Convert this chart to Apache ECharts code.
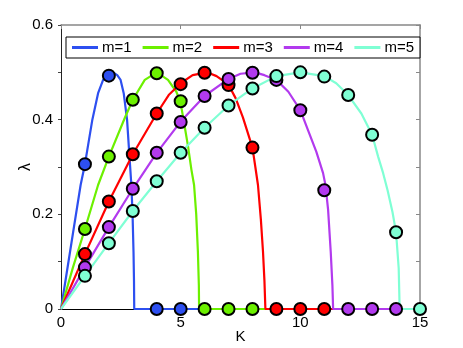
<!DOCTYPE html>
<html>
<head>
<meta charset="utf-8">
<script src="https://cdn.jsdelivr.net/npm/echarts@6/dist/echarts.min.js"></script>
<style>
  html, body { margin: 0; padding: 0; background: #fff; }
  #chart { width: 463px; height: 348px; }
</style>
</head>
<body>
<div id="chart"></div>
<script>
// legend names
const mNames = ['m=1', 'm=2', 'm=3', 'm=4', 'm=5'];

// theory curves [K, lambda]
const curve1 = [[0,0],[0.5,0.16],[0.82,0.262],[1,0.306],[1.31,0.40],[1.55,0.456],[1.76,0.484],[2,0.496],[2.17,0.5],[2.35,0.494],[2.49,0.484],[2.62,0.456],[2.76,0.40],[2.87,0.315],[2.94,0.262],[2.99,0.20],[3.03,0.12],[3.05,0.06],[3.06,0],[15,0]];
const curve2 = [[0,0],[0.5,0.088],[1,0.169],[1.55,0.262],[2,0.322],[2.66,0.403],[3,0.442],[3.5,0.484],[4,0.5],[4.47,0.484],[4.82,0.459],[5,0.435],[5.17,0.385],[5.31,0.343],[5.45,0.294],[5.56,0.262],[5.65,0.20],[5.72,0.121],[5.76,0.05],[5.77,0],[15,0]];
const curve3 = [[0,0],[1,0.116],[2,0.227],[3,0.327],[4,0.413],[4.5,0.452],[5,0.477],[5.5,0.494],[6.1,0.5],[6.5,0.492],[7,0.474],[7.3,0.445],[7.6,0.405],[8,0.341],[8.12,0.30],[8.23,0.262],[8.35,0.19],[8.44,0.121],[8.5,0.06],[8.54,0],[15,0]];
const curve4 = [[0,0],[1,0.088],[2,0.173],[3,0.254],[4,0.330],[5,0.396],[6,0.450],[7,0.486],[7.5,0.497],[8.1,0.5],[8.5,0.494],[9,0.484],[9.5,0.459],[10,0.42],[10.32,0.378],[10.67,0.332],[10.95,0.287],[11.05,0.262],[11.16,0.21],[11.27,0.121],[11.34,0.05],[11.37,0],[15,0]];
const curve5 = [[0,0],[1,0.070],[2,0.139],[3,0.207],[4,0.270],[5,0.330],[6,0.383],[7,0.430],[8,0.466],[9,0.492],[10,0.5],[11,0.492],[11.5,0.477],[12,0.452],[12.55,0.413],[13,0.368],[13.25,0.322],[13.46,0.287],[13.65,0.250],[13.85,0.205],[14,0.162],[14.11,0.086],[14.15,0],[15,0]];

// simulation points [K, lambda]
const sim1 = [[1,0.306],[2,0.493],[4,0],[5,0]];
const sim2 = [[1,0.169],[2,0.322],[3,0.442],[4,0.498],[5,0.439],[6,0],[7,0],[8,0]];
const sim3 = [[1,0.116],[2,0.227],[3,0.327],[4,0.413],[5,0.475],[6,0.499],[7,0.473],[8,0.341],[9,0],[10,0],[11,0]];
const sim4 = [[1,0.088],[2,0.173],[3,0.254],[4,0.330],[5,0.395],[6,0.450],[7,0.486],[8,0.499],[9,0.484],[10,0.420],[11,0.251],[12,0],[13,0],[14,0]];
const sim5 = [[1,0.070],[2,0.139],[3,0.207],[4,0.270],[5,0.330],[6,0.383],[7,0.430],[8,0.466],[9,0.492],[10,0.500],[11,0.491],[12,0.452],[13,0.368],[14,0.162],[15,0]];

const curves = [curve1, curve2, curve3, curve4, curve5];
const sims = [sim1, sim2, sim3, sim4, sim5];
const colors = ['#2d4ff0', '#6cf000', '#ff0000', '#b23aee', '#7fffd4'];

const chart = echarts.init(document.getElementById('chart'));

const series = [];
curves.forEach((c, i) => {
  series.push({
    name: mNames[i],
    type: 'line',
    data: c,
    symbol: 'none',
    color: colors[i],
    lineStyle: { width: 2.2, color: colors[i] },
    z: 2,
    animation: false
  });
});
sims.forEach((s, i) => {
  series.push({
    name: 'sim' + (i + 1),
    type: 'scatter',
    data: s,
    symbol: 'circle',
    symbolSize: 12,
    clip: false,
    itemStyle: { color: colors[i], borderColor: '#000', borderWidth: 2, opacity: 1 },
    z: 5,
    animation: false
  });
});

const font = 'Liberation Sans, Arial, sans-serif';

chart.setOption({
  animation: false,
  textStyle: { fontFamily: font },
  grid: { left: 61, right: 43, top: 25, bottom: 39, containLabel: false, outerBoundsMode: 'none' },
  legend: {
    data: mNames,
    left: 66,
    top: 37,
    padding: [3, 6, 3, 6],
    itemGap: 11,
    itemWidth: 26,
    itemHeight: 3,
    icon: 'rect',
    borderColor: '#000',
    borderWidth: 1,
    borderRadius: 0,
    backgroundColor: '#fff',
    textStyle: { fontFamily: font, fontSize: 15, color: '#000', padding: [0, 0, 0, -1] },
    z: 10
  },
  xAxis: [
    {
      type: 'value', min: 0, max: 15, interval: 5,
      name: 'K', nameLocation: 'middle', nameGap: 20, nameMoveOverlap: false,
      nameTextStyle: { fontFamily: font, fontSize: 15, color: '#000' },
      axisLine: { lineStyle: { color: '#000', width: 1 } },
      axisTick: { show: false },
      axisLabel: { fontFamily: font, fontSize: 15, color: '#000', margin: 6 },
      splitLine: { show: false }
    },
    {
      type: 'value', min: 0, max: 15, interval: 5, position: 'top',
      axisLine: { onZero: false, lineStyle: { color: '#888', width: 1.5 } },
      axisTick: { inside: true, length: 4, lineStyle: { color: '#888' } },
      axisLabel: { show: false },
      splitLine: { show: false }
    }
  ],
  yAxis: [
    {
      type: 'value', min: 0, max: 0.6, interval: 0.1,
      name: 'λ', nameLocation: 'middle', nameGap: 27, nameRotate: 90, nameMoveOverlap: false,
      nameTextStyle: { fontFamily: font, fontSize: 16, color: '#000' },
      axisLine: { show: true, lineStyle: { color: '#222', width: 1 } },
      axisTick: { show: true, length: 3, lineStyle: { color: '#444' } },
      axisLabel: {
        fontFamily: font, fontSize: 15, color: '#000', margin: 8,
        formatter: v => (Math.round(v * 10) % 2 === 0) ? (v === 0 ? '0' : v.toFixed(1)) : ''
      },
      splitLine: { show: false }
    },
    {
      type: 'value', min: 0, max: 0.6, interval: 0.1, position: 'right',
      axisLine: { show: true, onZero: false, lineStyle: { color: '#888', width: 1.5 } },
      axisTick: { show: true, inside: true, length: 4, lineStyle: { color: '#888' } },
      axisLabel: { show: false },
      splitLine: { show: false }
    }
  ],
  series: series
});
</script>
</body>
</html>
